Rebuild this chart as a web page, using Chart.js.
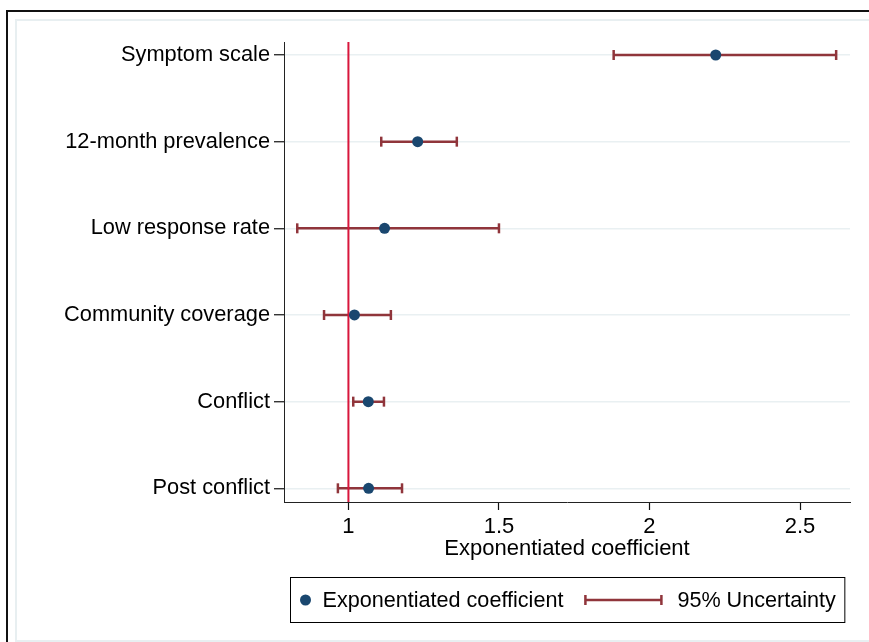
<!DOCTYPE html>
<html>
<head>
<meta charset="utf-8">
<script src="https://cdn.jsdelivr.net/npm/chart.js@4"></script>
<style>
  html, body { margin: 0; padding: 0; background: #fff; }
  body { width: 869px; height: 642px; position: relative; overflow: hidden; }
  .frame-outer { position: absolute; left: 6px; top: 10px; width: 900px; height: 700px;
                 border-left: 2px solid #111; border-top: 2px solid #111; }
  .frame-inner { position: absolute; left: 15px; top: 19px; width: 900px; height: 619px;
                 border: 2px solid #e8eff1; border-right: none; }
  #chart { position: absolute; left: 0; top: 0; }
</style>
</head>
<body>
<div class="frame-outer"></div>
<div class="frame-inner"></div>
<canvas id="chart" width="869" height="642"></canvas>
<script>
// Meta-regression results: exponentiated coefficients with 95% uncertainty intervals
const categories = ['Symptom scale', '12-month prevalence', 'Low response rate',
                    'Community coverage', 'Conflict', 'Post conflict'];
const estimates   = [2.220, 1.230, 1.120, 1.020, 1.066, 1.067];
const lowerBounds = [1.881, 1.109, 0.830, 0.919, 1.016, 0.965];
const upperBounds = [2.620, 1.360, 1.500, 1.141, 1.118, 1.178];
const xTickValues = [1, 1.5, 2, 2.5];
const referenceValue = 1;
const legendLabels = ['Exponentiated coefficient', '95% Uncertainty'];
const xTitle = 'Exponentiated coefficient';

const xMin = 0.786, xMax = 2.666;
const yMin = -0.15, yMax = 5.158;

const FONT = '"Liberation Sans", Arial, Helvetica, sans-serif';
const NAVY = '#1a476f';
const MAROON = '#90353b';
const RED = '#d8163c';

Chart.defaults.font.family = FONT;
Chart.defaults.font.size = 22;
Chart.defaults.color = '#000';

const pointData = estimates.map((v, i) => ({ x: v, y: i }));
const intervalData = [];
lowerBounds.forEach((lo, i) => {
  intervalData.push({ x: lo, y: i }, { x: upperBounds[i], y: i }, { x: null, y: null });
});
const referenceData = [{ x: referenceValue, y: yMin }, { x: referenceValue, y: yMax }];

// Legend drawn in a framed box under the x-axis title
const framedLegend = {
  id: 'framedLegend',
  afterDraw(chart) {
    const ctx = chart.ctx;
    const area = chart.chartArea;
    const xs = chart.scales.x;
    ctx.save();
    ctx.font = '21.6px ' + FONT;
    const w1 = ctx.measureText(legendLabels[0]).width;
    const w2 = ctx.measureText(legendLabels[1]).width;
    const symW = 76;
    const total = 32 + w1 + 22 + symW + 16 + w2 + 9;
    const left = Math.round((area.left + area.right) / 2 - total / 2) + 0.5;
    const top = Math.round(xs.bottom + 13) + 0.5;
    const h = 45;
    const cy = top + h / 2;
    ctx.fillStyle = '#fff';
    ctx.fillRect(left, top, total, h);
    ctx.strokeStyle = '#000';
    ctx.lineWidth = 1;
    ctx.strokeRect(left, top, total, h);
    // marker
    ctx.fillStyle = chart.data.datasets[0].backgroundColor;
    ctx.beginPath();
    ctx.arc(left + 15, cy, 5.5, 0, Math.PI * 2);
    ctx.fill();
    ctx.fillStyle = '#000';
    ctx.textBaseline = 'middle';
    ctx.textAlign = 'left';
    ctx.fillText(legendLabels[0], left + 32, cy + 1);
    // interval symbol
    const s0 = left + 32 + w1 + 22;
    const s1 = s0 + symW;
    ctx.strokeStyle = chart.data.datasets[1].borderColor;
    ctx.lineWidth = 2.5;
    ctx.beginPath();
    ctx.moveTo(s0, cy); ctx.lineTo(s1, cy);
    ctx.moveTo(s0, cy - 5); ctx.lineTo(s0, cy + 5);
    ctx.moveTo(s1, cy - 5); ctx.lineTo(s1, cy + 5);
    ctx.stroke();
    ctx.fillText(legendLabels[1], s1 + 16, cy + 1);
    ctx.restore();
  }
};

new Chart(document.getElementById('chart'), {
  type: 'scatter',
  data: {
    datasets: [
      {
        label: legendLabels[0],
        data: pointData,
        backgroundColor: NAVY,
        borderColor: NAVY,
        borderWidth: 0,
        pointRadius: 5.5,
        order: 0
      },
      {
        type: 'line',
        label: legendLabels[1],
        data: intervalData,
        borderColor: MAROON,
        borderWidth: 2.5,
        spanGaps: false,
        fill: false,
        tension: 0,
        pointStyle: 'line',
        pointRotation: 90,
        pointRadius: 5,
        pointBorderWidth: 2.5,
        pointBorderColor: MAROON,
        pointBackgroundColor: MAROON,
        order: 2,
        clip: false
      },
      {
        type: 'line',
        label: 'reference',
        data: referenceData,
        borderColor: RED,
        borderWidth: 2,
        pointRadius: 0,
        fill: false,
        order: 1
      }
    ]
  },
  options: {
    responsive: false,
    animation: false,
    events: [],
    layout: { padding: { top: 42, right: 19, bottom: 78, left: 0 } },
    plugins: {
      legend: { display: false },
      tooltip: { enabled: false }
    },
    scales: {
      x: {
        type: 'linear',
        min: xMin,
        max: xMax,
        afterBuildTicks: (s) => { s.ticks = xTickValues.map(v => ({ value: v })); },
        afterFit: (s) => { s.height = 62; },
        ticks: {
          padding: 4,
          color: '#000',
          font: { size: 22 },
          callback: (v) => String(v)
        },
        grid: {
          drawOnChartArea: false,
          drawTicks: true,
          tickLength: 8,
          tickColor: '#111',
          tickWidth: 1.2
        },
        border: { display: true, color: '#222', width: 1 },
        title: {
          display: true,
          text: xTitle,
          color: '#000',
          font: { size: 22 },
          padding: { top: 0, bottom: 2 }
        }
      },
      y: {
        type: 'linear',
        min: yMin,
        max: yMax,
        reverse: true,
        afterBuildTicks: (s) => { s.ticks = categories.map((_, i) => ({ value: i })); },
        afterFit: (s) => { s.width = 284; },
        ticks: {
          padding: 4,
          color: '#000',
          font: { size: 21.8 },
          callback: (v) => categories[v] ?? ''
        },
        grid: {
          color: '#e9f0f2',
          lineWidth: 1.5,
          drawTicks: true,
          tickLength: 10,
          tickColor: '#111',
          tickWidth: 1.2
        },
        border: { display: true, color: '#222', width: 1 }
      }
    }
  },
  plugins: [framedLegend]
});
</script>
</body>
</html>
